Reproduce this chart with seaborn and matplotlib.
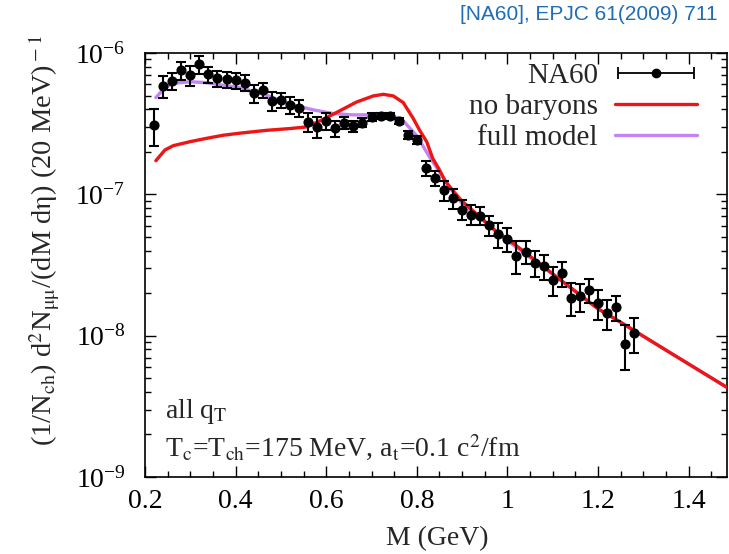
import numpy as np
import pandas as pd
import matplotlib
matplotlib.use("Agg")
import matplotlib.pyplot as plt
import seaborn as sns
from matplotlib.ticker import MultipleLocator, FixedLocator, FixedFormatter, LogLocator, NullFormatter
from matplotlib.legend_handler import HandlerErrorbar

# ---------------- data ----------------
na60_mass = [0.22, 0.24, 0.26, 0.28, 0.30, 0.32, 0.34, 0.36, 0.38, 0.40,
             0.42, 0.44, 0.46, 0.48, 0.50, 0.52, 0.54, 0.56, 0.58, 0.60,
             0.62, 0.64, 0.66, 0.68, 0.70, 0.72, 0.74, 0.76, 0.78, 0.80,
             0.82, 0.84, 0.86, 0.88, 0.90, 0.92, 0.94, 0.96, 0.98, 1.00,
             1.02, 1.04, 1.06, 1.08, 1.10, 1.12, 1.14, 1.16, 1.18, 1.20,
             1.22, 1.24, 1.26, 1.28]
# yield in units of 1e-7
na60_yield = [3.10, 5.85, 6.34, 7.55, 6.97, 8.32, 7.08, 6.63, 6.52, 6.44,
              6.17, 5.20, 5.48, 4.58, 4.63, 4.30, 4.11, 3.26, 3.01, 3.31,
              2.94, 3.22, 3.05, 3.22, 3.53, 3.59, 3.59, 3.31, 2.64, 2.43,
              1.54, 1.31, 1.07, 0.937, 0.780, 0.719, 0.707, 0.602, 0.525, 0.484,
              0.369, 0.394, 0.328, 0.310, 0.249, 0.277, 0.186, 0.190, 0.211, 0.170,
              0.145, 0.160, 0.0879, 0.105]
# relative errors
na60_relerr = [0.29, 0.175, 0.14, 0.15, 0.16, 0.14, 0.13, 0.13, 0.13, 0.13,
               0.13, 0.15, 0.12, 0.15, 0.12, 0.14, 0.14, 0.15, 0.17, 0.14,
               0.13, 0.10, 0.09, 0.07, 0.07, 0.055, 0.05, 0.055, 0.07, 0.065,
               0.12, 0.12, 0.155, 0.155, 0.16, 0.16, 0.145, 0.16, 0.20, 0.19,
               0.26, 0.185, 0.21, 0.20, 0.23, 0.20, 0.26, 0.23, 0.19, 0.24,
               0.24, 0.20, 0.35, 0.28]

nobar_mass = [0.224, 0.244, 0.2625, 0.30, 0.336, 0.373, 0.41, 0.447, 0.47, 0.52,
              0.557, 0.594, 0.63, 0.667, 0.704, 0.726, 0.748, 0.77, 0.792, 0.806,
              0.822, 0.835, 0.851, 0.862, 0.88, 0.899, 0.936, 0.973, 1.01, 1.10,
              1.20, 1.249, 1.35, 1.488]
nobar_yield = [1.73, 2.06, 2.21, 2.36, 2.49, 2.62, 2.71, 2.79, 2.84, 2.92,
               3.00, 3.40, 3.90, 4.50, 4.97, 5.10, 4.97, 4.46, 3.45, 2.85,
               2.35, 1.80, 1.47, 1.25, 1.06, 0.90, 0.708, 0.554, 0.458, 0.274,
               0.155, 0.125, 0.079, 0.0424]

full_mass = [0.224, 0.244, 0.2625, 0.30, 0.336, 0.373, 0.41, 0.447, 0.472, 0.52,
             0.571, 0.615, 0.659, 0.703, 0.747, 0.77, 0.80, 0.829, 0.851, 0.87,
             0.90, 0.95, 1.00, 1.10, 1.20, 1.249, 1.35, 1.488]
full_yield = [4.84, 5.69, 6.11, 6.26, 6.17, 5.91, 5.69, 5.25, 4.98, 4.35,
              3.96, 3.73, 3.65, 3.65, 3.60, 3.31, 2.60, 1.82, 1.43, 1.15,
              0.86, 0.64, 0.47, 0.272, 0.155, 0.125, 0.079, 0.0424]

x_ticks = [0.2, 0.4, 0.6, 0.8, 1.0, 1.2, 1.4]
x_ticklabels = ["0.2", "0.4", "0.6", "0.8", "1", "1.2", "1.4"]

SCALE = 1e-7
df_data = pd.DataFrame({"M": na60_mass, "y": np.array(na60_yield) * SCALE})
df_data["err"] = df_data["y"] * np.array(na60_relerr)
df_nobar = pd.DataFrame({"M": nobar_mass, "y": np.array(nobar_yield) * SCALE})
df_full = pd.DataFrame({"M": full_mass, "y": np.array(full_yield) * SCALE})

# ---------------- style ----------------
sns.set_theme(style="ticks")
plt.rcParams["font.family"] = ["Liberation Serif", "DejaVu Serif"]
plt.rcParams["mathtext.fontset"] = "stix"
plt.rcParams["axes.linewidth"] = 1.2

RED = "#ee1515"
PURPLE = "#c383f2"

W, H = 729, 554
fig = plt.figure(figsize=(W / 100, H / 100), dpi=100)
L, R, T, B = 145, 727, 53, 477
ax = fig.add_axes([L / W, 1 - B / H, (R - L) / W, (B - T) / H])

sns.lineplot(data=df_full, x="M", y="y", ax=ax, color=PURPLE, lw=2.4, zorder=2)
full_line = ax.lines[-1]
sns.lineplot(data=df_nobar, x="M", y="y", ax=ax, color=RED, lw=2.4, zorder=3)
red_line = ax.lines[-1]

ax.errorbar(df_data["M"], df_data["y"], yerr=df_data["err"], fmt="o", color="black",
            ms=6.3, capsize=3.8, elinewidth=1.5, capthick=1.5, zorder=5)
proxy = ax.errorbar([np.nan], [np.nan], xerr=[np.nan], fmt="o", color="black",
                    ms=6, capsize=4, elinewidth=1.3, capthick=1.3)

ax.set_yscale("log")
ax.set_xlim(0.2, 0.2 + (R - L) / 453)
ax.set_ylim(1e-9, 1e-6)
ax.set_xlabel("")
ax.set_ylabel("")
ax.xaxis.label.set_visible(False)
ax.yaxis.label.set_visible(False)

ax.xaxis.set_major_locator(FixedLocator(x_ticks))
ax.xaxis.set_major_formatter(FixedFormatter(x_ticklabels))
ax.xaxis.set_minor_locator(MultipleLocator(0.05))
ax.yaxis.set_major_locator(LogLocator(base=10, numticks=10))
ax.yaxis.set_minor_locator(LogLocator(base=10, subs=np.arange(2, 10), numticks=20))
ax.yaxis.set_minor_formatter(NullFormatter())
ax.tick_params(which="both", direction="in", top=True, right=True, width=1.0,
               labelsize=20, colors="black")
ax.tick_params(which="major", length=8)
ax.tick_params(which="minor", length=4)
ax.tick_params(axis="x", pad=9)
ax.tick_params(axis="y", pad=14)
for s in ax.spines.values():
    s.set_color("black")

leg = ax.legend([proxy, red_line, full_line], ["NA60", "no baryons", "full model"],
                markerfirst=False, frameon=False, fontsize=21, handlelength=2.8,
                handletextpad=0.6, labelspacing=0.15, borderpad=0, borderaxespad=0,
                loc="upper right", bbox_to_anchor=(697 / W, 1 - 63 / H),
                bbox_transform=fig.transFigure,
                handler_map={type(proxy): HandlerErrorbar(xerr_size=1.3)})

fig.text(45 / W, 1 - 241 / H,
         r"(1/N$_{\rm ch}$) d$^{\rm 2}$N$_{\rm μμ}$/(dM d${\rm η}$) (20 MeV)$^{\rm -1}$",
         rotation=90, ha="center", va="center", fontsize=20.5)
fig.text(437 / W, 1 - 539 / H, "M (GeV)", ha="center", va="center", fontsize=20)
fig.text(165 / W, 1 - 412 / H, r"all q$_{\rm T}$", ha="left", va="center", fontsize=20)
fig.text(165 / W, 1 - 448 / H,
         r"T$_{\rm c}$=T$_{\rm ch}$=175 MeV, a$_{\rm t}$=0.1 c$^{\rm 2}$/fm",
         ha="left", va="center", fontsize=20)
fig.text(718 / W, 1 - 14 / H, "[NA60], EPJC 61(2009) 711", ha="right", va="center",
         fontsize=15, color="#1f6db4", family=["Liberation Sans", "DejaVu Sans"])

fig.savefig("out.png", dpi=100)
